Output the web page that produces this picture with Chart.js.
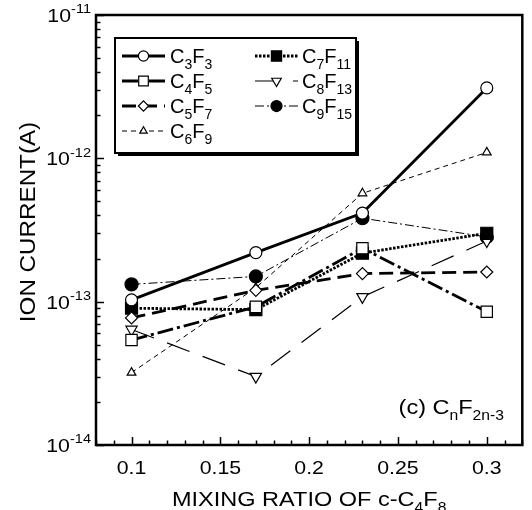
<!DOCTYPE html>
<html>
<head>
<meta charset="utf-8">
<script src="https://cdn.jsdelivr.net/npm/chart.js@4.4.0/dist/chart.umd.min.js"></script>
<style>
html, body { margin: 0; padding: 0; background: #fff; }
#wrap { width: 532px; height: 510px; }
</style>
</head>
<body>
<div id="wrap"><canvas id="ionChart" width="532" height="510"></canvas></div>
<script>
// mixing ratio of c-C4F8
const ratios = [0.1, 0.17, 0.23, 0.3];

// ion current (A) for each CnF2n-3 ion
const c3f3  = [1.03e-13, 2.2e-13, 4.15e-13, 3.1e-12];
const c4f5  = [5.4e-14, 9.2e-14, 2.36e-13, 8.5e-14];
const c5f7  = [7.7e-14, 1.2e-13, 1.57e-13, 1.61e-13];
const c6f9  = [3.2e-14, 1.25e-13, 5.7e-13, 1.1e-12];
const c7f11 = [9.0e-14, 8.8e-14, 2.18e-13, 3.0e-13];
const c8f13 = [6.4e-14, 3.0e-14, 1.08e-13, 2.65e-13];
const c9f15 = [1.32e-13, 1.5e-13, 3.82e-13, 2.83e-13];

// tick labels
const xTickLabels = ['0.1', '0.15', '0.2', '0.25', '0.3'];
const yExponents = ['-14', '-13', '-12', '-11'];

const FONT = 'Liberation Sans, Arial, sans-serif';
const SX = 1.12; // the figure's text is a bit wide

function toPoints(vals) {
    return ratios.map((r, i) => ({ x: r, y: vals[i] }));
}

// series: label parts, data, line and marker style
const series = [
    { name: [['C'], ['3', 'sub'], ['F'], ['3', 'sub']], data: c3f3, width: 2.8, dash: [], style: 'circle', r: 6, fill: '#fff', rot: 0 },
    { name: [['C'], ['4', 'sub'], ['F'], ['5', 'sub']], data: c4f5, width: 2.8, dash: [16, 4, 3, 4], style: 'rect', r: 8, fill: '#fff', rot: 0 },
    { name: [['C'], ['5', 'sub'], ['F'], ['7', 'sub']], data: c5f7, width: 2.8, dash: [14, 7], style: 'rectRot', r: 6, fill: '#fff', rot: 0 },
    { name: [['C'], ['6', 'sub'], ['F'], ['9', 'sub']], data: c6f9, width: 1, dash: [5, 4], style: 'triangle', r: 5, fill: '#fff', rot: 0 },
    { name: [['C'], ['7', 'sub'], ['F'], ['11', 'sub']], data: c7f11, width: 2.8, dash: [2.5, 1.5], style: 'rect', r: 8.5, fill: '#000', rot: 0 },
    { name: [['C'], ['8', 'sub'], ['F'], ['13', 'sub']], data: c8f13, width: 1.2, dash: [24, 14], style: 'triangle', r: 6.5, fill: '#fff', rot: 180 },
    { name: [['C'], ['9', 'sub'], ['F'], ['15', 'sub']], data: c9f15, width: 1, dash: [9, 3, 2, 3], style: 'circle', r: 6.5, fill: '#000', rot: 0 }
];

// draw text with sub/superscripts; parts = [[text, mode], ...]
function partFont(size, mode) {
    return (mode ? Math.round(size * 0.68) : size) + 'px ' + FONT;
}
function richWidth(ctx, parts, size, sx) {
    let w = 0;
    parts.forEach(p => { ctx.font = partFont(size, p[1]); w += ctx.measureText(p[0]).width; });
    return w * sx;
}
function drawRich(ctx, parts, x, y, size, align, sx) {
    sx = sx || SX;
    const w = richWidth(ctx, parts, size, sx);
    let cx = x;
    if (align === 'center') cx = x - w / 2;
    if (align === 'right') cx = x - w;
    ctx.save();
    ctx.translate(cx, y);
    ctx.scale(sx, 1);
    ctx.fillStyle = '#000';
    ctx.textAlign = 'left';
    ctx.textBaseline = 'alphabetic';
    let px = 0;
    parts.forEach(p => {
        ctx.font = partFont(size, p[1]);
        let dy = 0;
        if (p[1] === 'sub') dy = size * 0.3;
        if (p[1] === 'sup') dy = -size * 0.45;
        ctx.fillText(p[0], px, dy);
        px += ctx.measureText(p[0]).width;
    });
    ctx.restore();
}

function drawMarker(ctx, s, x, y, r) {
    ctx.save();
    ctx.setLineDash([]);
    ctx.lineWidth = 1.2;
    ctx.strokeStyle = '#000';
    ctx.fillStyle = s.fill;
    Chart.helpers.drawPoint(ctx, { pointStyle: s.style, radius: r, rotation: s.rot, borderWidth: 1.2 }, x, y);
    ctx.restore();
}

const decorPlugin = {
    id: 'decor',
    afterDraw(chart) {
        const ctx = chart.ctx;
        const area = chart.chartArea;
        const xs = chart.scales.x;
        const ys = chart.scales.y;

        ctx.save();
        ctx.strokeStyle = '#000';
        ctx.setLineDash([]);

        // ticks on the left axis (inward)
        ctx.lineWidth = 1.5;
        for (let d = -14; d <= -11; d++) {
            for (let m = 1; m <= 9; m++) {
                if (d === -11 && m > 1) break;
                const y = Math.round(ys.getPixelForValue(m * Math.pow(10, d))) + 0.5;
                const len = m === 1 ? 8 : 4.5;
                ctx.beginPath();
                ctx.moveTo(area.left, y);
                ctx.lineTo(area.left + len, y);
                ctx.stroke();
            }
        }
        // ticks on the bottom axis (inward)
        xs.ticks.forEach(t => {
            const x = Math.round(xs.getPixelForValue(t.value)) + 0.5;
            const major = Math.round(t.value * 100) % 5 === 0;
            ctx.beginPath();
            ctx.moveTo(x, area.bottom);
            ctx.lineTo(x, area.bottom - (major ? 8 : 4.5));
            ctx.stroke();
        });

        // frame
        ctx.lineWidth = 2.5;
        ctx.strokeRect(area.left, area.top, area.right - area.left, area.bottom - area.top);

        // x tick labels
        xTickLabels.forEach(l => {
            const x = xs.getPixelForValue(parseFloat(l));
            drawRich(ctx, [[l]], x, 474, 19, 'center');
        });
        // y tick labels 10^n
        yExponents.forEach(e => {
            const y = ys.getPixelForValue(Math.pow(10, parseInt(e)));
            drawRich(ctx, [['10'], [e, 'sup']], 91, y + 7, 19, 'right');
        });

        // axis titles
        drawRich(ctx, [['MIXING RATIO OF c-C'], ['4', 'sub'], ['F'], ['8', 'sub']], (area.left + area.right) / 2, 506, 21, 'center');
        ctx.save();
        ctx.translate(35, 222);
        ctx.rotate(-Math.PI / 2);
        ctx.font = '22px ' + FONT;
        ctx.fillStyle = '#000';
        ctx.textAlign = 'center';
        ctx.textBaseline = 'alphabetic';
        ctx.scale(1.1, 1);
        ctx.fillText('ION CURRENT(A)', 0, 0);
        ctx.restore();

        // panel note
        drawRich(ctx, [['(c) C'], ['n', 'sub'], ['F'], ['2n-3', 'sub']], 504, 414, 21, 'right');

        // legend box with shadow
        const bx = 115, by = 38, bw = 241, bh = 115;
        ctx.fillStyle = '#000';
        ctx.fillRect(bx + 3, by + 3, bw, bh);
        ctx.fillStyle = '#fff';
        ctx.fillRect(bx, by, bw, bh);
        ctx.lineWidth = 2;
        ctx.strokeRect(bx, by, bw, bh);

        const rows = [56, 81, 106, 131];
        series.forEach((s, i) => {
            const col = i < 4 ? 0 : 1;
            const y = rows[col ? i - 4 : i];
            const x0 = col ? 255 : 122;
            const x1 = col ? 298 : 165;
            ctx.save();
            ctx.lineWidth = s.width;
            ctx.setLineDash(s.dash);
            ctx.beginPath();
            ctx.moveTo(x0, y);
            ctx.lineTo(x1, y);
            ctx.stroke();
            ctx.restore();
            drawMarker(ctx, s, (x0 + x1) / 2, y, s.r * 0.85);
            drawRich(ctx, s.name, col ? 302 : 170, y + 7, 20, 'left', 1.0);
        });
        ctx.restore();
    }
};

const datasets = series.map(s => ({
    data: toPoints(s.data),
    borderColor: '#000',
    borderWidth: s.width,
    borderDash: s.dash,
    pointStyle: s.style,
    pointRadius: s.r,
    pointRotation: s.rot,
    pointBackgroundColor: s.fill,
    pointBorderColor: '#000',
    pointBorderWidth: 1.2,
    fill: false,
    tension: 0
}));

new Chart(document.getElementById('ionChart'), {
    type: 'line',
    data: { datasets: datasets },
    options: {
        responsive: false,
        animation: false,
        devicePixelRatio: 1,
        layout: { padding: { top: 15, right: 4, left: 0, bottom: 0 } },
        plugins: {
            legend: { display: false },
            tooltip: { enabled: false }
        },
        scales: {
            x: {
                type: 'linear',
                min: 0.08,
                max: 0.32,
                ticks: { stepSize: 0.01, display: false, autoSkip: false },
                grid: { display: false },
                border: { display: false },
                afterFit(scale) { scale.height = 65; }
            },
            y: {
                type: 'logarithmic',
                min: 1e-14,
                max: 1e-11,
                ticks: { display: false },
                grid: { display: false },
                border: { display: false },
                afterFit(scale) { scale.width = 96; }
            }
        }
    },
    plugins: [decorPlugin]
});
</script>
</body>
</html>
